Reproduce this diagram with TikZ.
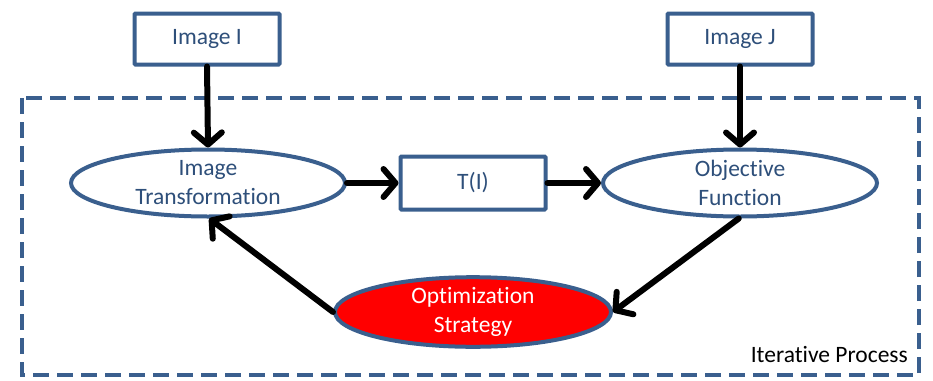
\documentclass[tikz,border=0pt]{standalone}
\usepackage{fontspec}
\setmainfont{Carlito}[Ligatures=NoCommon]
\usetikzlibrary{arrows.meta,shapes.geometric}
\definecolor{obl}{HTML}{3A5F8E}
\definecolor{otx}{HTML}{2E4F7A}
\begin{document}
\begin{tikzpicture}[x=1pt,y=-1pt,
  nfont/.style={font=\fontsize{23.5}{29}\selectfont},
  boxn/.style={nfont,draw=obl,line width=4pt,fill=white,text=otx,minimum width=145pt,minimum height=51pt,rounded corners=1pt,align=center,inner sep=0pt},
  elln/.style={nfont,ellipse,draw=obl,line width=4pt,fill=white,text=otx,minimum width=274pt,minimum height=67pt,align=center,inner sep=0pt},
  arr/.style={line width=6pt,line cap=round,-{Straight Barb[length=12pt,width=28pt,line width=6pt,round]}}]
\useasboundingbox (0,0) rectangle (933,380);
\draw[obl,line width=4pt,dash pattern=on 16pt off 8pt] (22,98) rectangle (919,375);
\node[nfont,anchor=east,text=black,inner sep=0pt] (lbl) at (908,354) {Iterative Process};
\node[boxn] (imgI) at (207,39) {Image I};
\node[boxn] (imgJ) at (740,39) {Image J};
\node[elln] (trans) at (208,183) {Image\\Transformation};
\node[boxn,minimum height=53pt] (TI) at (473,183) {T(I)};
\node[elln] (obj) at (740,183) {Objective\\Function};
\node[elln,fill=red,text=white,minimum width=276pt,minimum height=68pt] (opt) at (473,312) {Optimization\\Strategy};
\draw[arr] (imgI.south) -- (trans.north);
\draw[arr] (imgJ.south) -- (obj.north);
\draw[arr] (trans.east) -- (TI.west);
\draw[arr] (TI.east) -- (obj.west);
\draw[arr] (obj.-92) -- (opt.east);
\draw[arr] (opt.west) -- (trans.-88);
\end{tikzpicture}
\end{document}
